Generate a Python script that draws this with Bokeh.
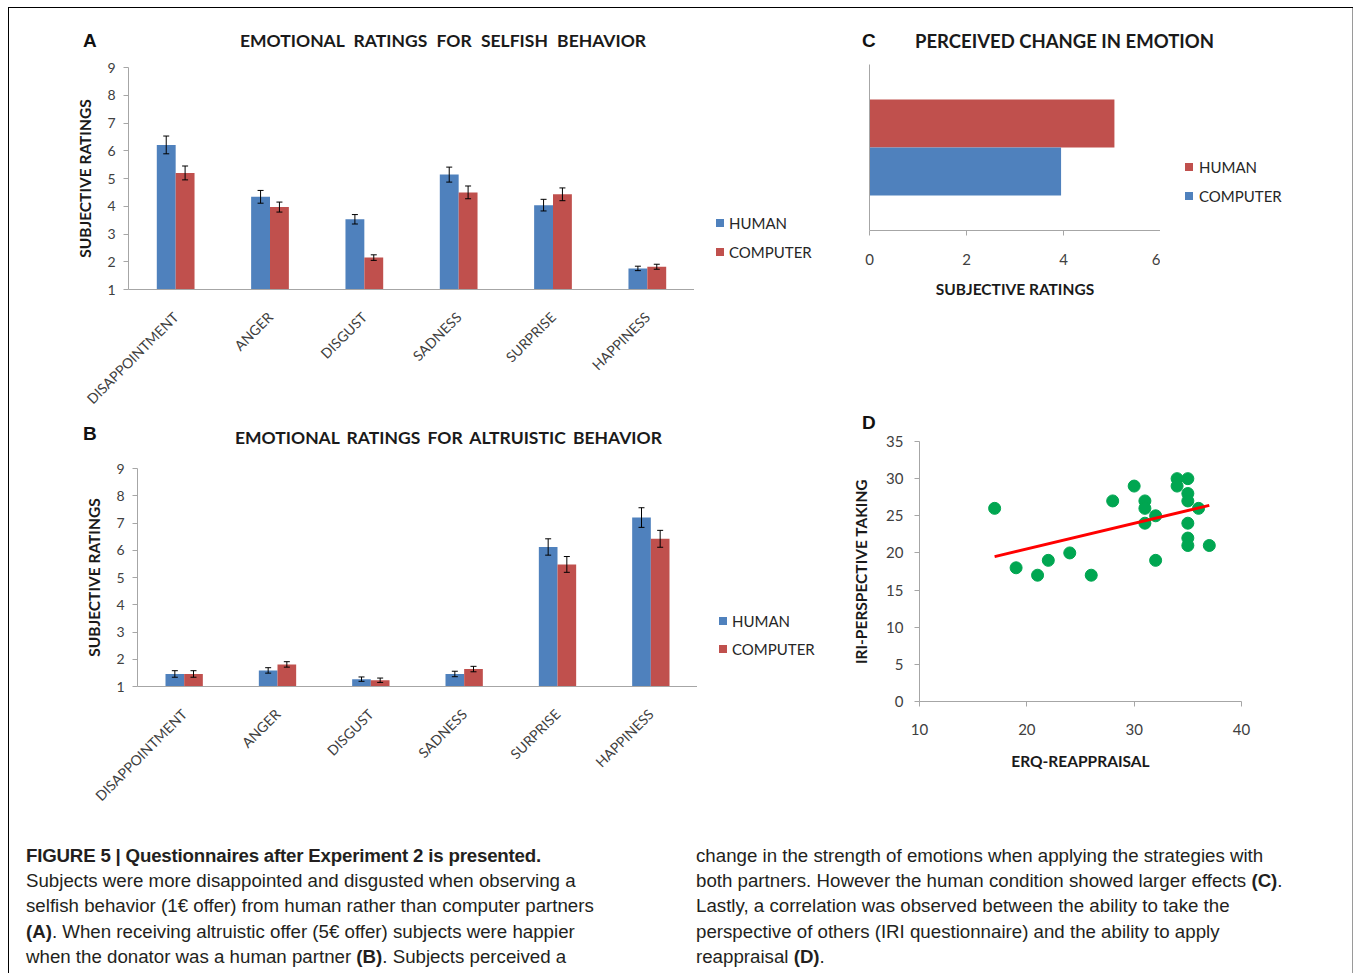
import math
from bokeh.plotting import figure
from bokeh.models import (ColumnDataSource, Range1d, FactorRange, FixedTicker, Div, Spacer)
from bokeh.layouts import row, column
from bokeh.transform import dodge
from bokeh.embed import file_html
from bokeh.resources import INLINE

# ---------------- data ----------------
emotions = ["DISAPPOINTMENT", "ANGER", "DISGUST", "SADNESS", "SURPRISE", "HAPPINESS"]
series_names = ["HUMAN", "COMPUTER"]
selfish_human = [6.21, 4.34, 3.53, 5.14, 4.04, 1.76]
selfish_human_err = [0.32, 0.23, 0.17, 0.27, 0.21, 0.08]
selfish_computer = [5.20, 3.97, 2.15, 4.50, 4.43, 1.82]
selfish_computer_err = [0.25, 0.18, 0.10, 0.23, 0.23, 0.09]
altruistic_human = [1.46, 1.59, 1.27, 1.46, 6.12, 7.20]
altruistic_human_err = [0.12, 0.10, 0.08, 0.10, 0.30, 0.36]
altruistic_computer = [1.46, 1.81, 1.23, 1.64, 5.48, 6.42]
altruistic_computer_err = [0.12, 0.10, 0.08, 0.10, 0.29, 0.31]
rating_ticks = [1, 2, 3, 4, 5, 6, 7, 8, 9]

change_category = ["CHANGE"]
change_human = [5.05]
change_computer = [3.95]
change_ticks = [0, 2, 4, 6]

erq_reappraisal = [17, 19, 21, 22, 24, 26, 28, 30, 31, 31, 31, 32, 32, 34, 34,
                   35, 35, 35, 35, 35, 35, 36, 37]
iri_perspective = [26, 18, 17, 19, 20, 17, 27, 29, 27, 26, 24, 25, 19, 30, 29,
                   30, 28, 27, 24, 22, 21, 26, 21]
trend_x = [17, 37]
trend_y = [19.5, 26.4]
erq_ticks = [10, 20, 30, 40]
iri_ticks = [0, 5, 10, 15, 20, 25, 30, 35]

# ---------------- style ----------------
BLUE = "#4F81BD"
RED = "#C0504D"
GREEN = "#00A651"
AXIS = "#A6A6A6"
TICKTXT = "#404040"
FONT = "Lato"


def new_fig(frame_w, frame_h, borders, **kw):
    bl, br, bt, bb = borders
    return figure(frame_width=frame_w, frame_height=frame_h,
                  output_backend="svg", toolbar_location=None,
                  min_border_left=bl, min_border_right=br, min_border_top=bt,
                  min_border_bottom=bb, frame_align=False, **kw)


def base_style(p, tick_size="14px"):
    p.xgrid.visible = False
    p.ygrid.visible = False
    p.outline_line_color = None
    for ax in p.axis:
        ax.axis_line_color = AXIS
        ax.major_tick_line_color = AXIS
        ax.minor_tick_line_color = None
        ax.major_tick_in = 0
        ax.major_tick_out = 5
        ax.major_label_text_font = FONT
        ax.major_label_text_font_size = tick_size
        ax.major_label_text_color = TICKTXT
        ax.axis_label_text_font = FONT
        ax.axis_label_text_font_style = "bold"
        ax.axis_label_text_font_size = "15.5px"
        ax.axis_label_text_color = "#1a1a1a"


def title_div(width, height, letter, lx, ly, title=None, tx=0, ty=0,
              size="17.5px", wspace="5px"):
    html = (f'<div style="position:relative;width:{width}px;height:{height}px;">'
            f'<span style="position:absolute;left:{lx}px;top:{ly - 11}px;line-height:22px;'
            f'font-family:\'Liberation Sans\',Arial,sans-serif;font-weight:bold;'
            f'font-size:19px;color:#111;white-space:nowrap;">{letter}</span>')
    if title:
        html += (f'<span style="position:absolute;left:{tx}px;top:{ty - 11}px;line-height:22px;'
                 f'font-family:Lato,sans-serif;font-weight:bold;font-size:{size};'
                 f'word-spacing:{wspace};color:#1a1a1a;white-space:nowrap;">{title}</span>')
    html += '</div>'
    return Div(text=html, width=width, height=height, margin=0)


def legend_div(width, height, entries):
    html = f'<div style="position:relative;width:{width}px;height:{height}px;">'
    for label, color, sx, cy, tx in entries:
        html += (f'<span style="position:absolute;left:{sx}px;top:{cy - 4}px;width:8px;'
                 f'height:8px;background:{color};"></span>'
                 f'<span style="position:absolute;left:{tx}px;top:{cy - 10}px;line-height:20px;'
                 f'font-family:Lato,sans-serif;font-size:15px;color:#262626;'
                 f'white-space:nowrap;">{label}</span>')
    html += '</div>'
    return Div(text=html, width=width, height=height, margin=0)


def bar_panel(human, human_err, comp, comp_err, frame_w, frame_h, borders):
    src = ColumnDataSource(dict(
        cat=emotions, h=human, c=comp,
        h_lo=[v - e for v, e in zip(human, human_err)],
        h_hi=[v + e for v, e in zip(human, human_err)],
        c_lo=[v - e for v, e in zip(comp, comp_err)],
        c_hi=[v + e for v, e in zip(comp, comp_err)],
    ))
    p = new_fig(frame_w, frame_h, borders,
                x_range=FactorRange(factors=emotions), y_range=Range1d(1, 9))
    xh = dodge("cat", -0.1, range=p.x_range)
    xc = dodge("cat", 0.1, range=p.x_range)
    p.vbar(x=xh, top="h", bottom=1, width=0.2, source=src, fill_color=BLUE, line_color=None)
    p.vbar(x=xc, top="c", bottom=1, width=0.2, source=src, fill_color=RED, line_color=None)
    for xx, lo, hi in ((xh, "h_lo", "h_hi"), (xc, "c_lo", "c_hi")):
        p.segment(x0=xx, x1=xx, y0=lo, y1=hi, source=src, line_color="black", line_width=1)
        p.scatter(x=xx, y=lo, source=src, marker="dash", size=6, line_color="black", line_width=1)
        p.scatter(x=xx, y=hi, source=src, marker="dash", size=6, line_color="black", line_width=1)
    base_style(p)
    p.yaxis.ticker = FixedTicker(ticks=rating_ticks)
    p.yaxis.axis_label = "SUBJECTIVE RATINGS"
    p.yaxis.major_label_standoff = 8
    p.yaxis.axis_label_standoff = 10
    p.xaxis.major_tick_line_color = None
    p.xaxis.major_label_orientation = math.pi / 4
    p.xaxis.major_label_standoff = 20
    return p


# ---------------- panel A ----------------
pA = bar_panel(selfish_human, selfish_human_err, selfish_computer, selfish_computer_err,
               566, 222, (119, 0, 9, 126))
tA = title_div(831, 50, "A", 74, 33, "EMOTIONAL RATINGS FOR SELFISH BEHAVIOR", 231, 33)
lA = legend_div(146, 357, [(series_names[0], BLUE, 22, 165, 35),
                           (series_names[1], RED, 22, 194, 35)])
blockA = column(tA, row(pA, lA))

# ---------------- panel B ----------------
pB = bar_panel(altruistic_human, altruistic_human_err, altruistic_computer,
               altruistic_computer_err, 560, 218, (128, 0, 7, 145))
tB = title_div(831, 45, "B", 74, 18, "EMOTIONAL RATINGS FOR ALTRUISTIC BEHAVIOR", 226, 22,
               wspace="3px")
lB = legend_div(143, 370, [(series_names[0], BLUE, 22, 160, 35),
                           (series_names[1], RED, 22, 188, 35)])
blockB = column(tB, row(pB, lB))

# ---------------- panel C ----------------
srcC = ColumnDataSource(dict(cat=change_category, h=change_human, c=change_computer))
pC = new_fig(291, 166, (29, 0, 8, 185),
             y_range=FactorRange(factors=change_category), x_range=Range1d(0, 6))
pC.hbar(y=dodge("cat", 0.1446, range=pC.y_range), left=0, right="h", height=0.289,
        source=srcC, fill_color=RED, line_color=None)
pC.hbar(y=dodge("cat", -0.1446, range=pC.y_range), left=0, right="c", height=0.289,
        source=srcC, fill_color=BLUE, line_color=None)
base_style(pC, "15px")
pC.xaxis.ticker = FixedTicker(ticks=change_ticks)
pC.xaxis.major_label_standoff = 18
pC.xaxis.axis_label = "SUBJECTIVE RATINGS"
pC.xaxis.axis_label_standoff = 12
pC.yaxis.major_tick_line_color = None
pC.yaxis.major_label_text_font_size = "1px"
pC.yaxis.major_label_text_color = None
pC.yaxis.major_label_standoff = 0
tC = title_div(512, 48, "C", 22, 33, "PERCEIVED CHANGE IN EMOTION", 75, 33,
               size="18.5px", wspace="0px")
lC = legend_div(192, 359, [(series_names[0], RED, 25, 111, 39),
                           (series_names[1], BLUE, 25, 140, 39)])
blockC = column(tC, row(pC, lC))

# ---------------- panel D ----------------
pD = new_fig(322, 260, (79, 111, 8, 130),
             x_range=Range1d(10, 40), y_range=Range1d(0, 35))
pD.scatter(erq_reappraisal, iri_perspective, size=12, fill_color=GREEN, line_color=GREEN)
pD.line(trend_x, trend_y, line_color="#FF0000", line_width=3)
base_style(pD, "15px")
pD.xaxis.ticker = FixedTicker(ticks=erq_ticks)
pD.yaxis.ticker = FixedTicker(ticks=iri_ticks)
pD.xaxis.major_label_standoff = 17
pD.yaxis.major_label_standoff = 11
pD.xaxis.axis_label = "ERQ-REAPPRAISAL"
pD.yaxis.axis_label = "IRI-PERSPECTIVE TAKING"
pD.xaxis.axis_label_standoff = 14
pD.yaxis.axis_label_standoff = 13
tD = title_div(512, 17, "D", 22, 7)
blockD = column(tD, pD)

# ---------------- caption ----------------
cap_style = ("font-family:'Liberation Sans',Arial,sans-serif;font-size:18.7px;"
             "line-height:25.2px;color:#231f20;white-space:nowrap;")
left_html = (
    f"<div style=\"{cap_style}padding:12px 0 0 17px;\">"
    "<b style=\"letter-spacing:-0.2px\">FIGURE 5 | Questionnaires after Experiment 2 is presented.</b><br>"
    "Subjects were more disappointed and disgusted when observing a<br>"
    "selfish behavior (1&euro; offer) from human rather than computer partners<br>"
    "<b>(A)</b>. When receiving altruistic offer (5&euro; offer) subjects were happier<br>"
    "when the donator was a human partner <b>(B)</b>. Subjects perceived a"
    "</div>")
right_html = (
    f"<div style=\"{cap_style}padding:12px 0 0 7px;\">"
    "change in the strength of emotions when applying the strategies with<br>"
    "both partners. However the human condition showed larger effects <b>(C)</b>.<br>"
    "Lastly, a correlation was observed between the ability to take the<br>"
    "perspective of others (IRI questionnaire) and the ability to apply<br>"
    "reappraisal <b>(D)</b>."
    "</div>")
capL = Div(text=left_html, width=680, height=143, margin=0)
capR = Div(text=right_html, width=663, height=143, margin=0)

content = column(row(blockA, blockC), row(blockB, blockD), row(capL, capR))
top_line = Div(text="", width=1345, height=1, margin=0,
               styles={"background-color": "#000000"})
left_line = Div(text="", width=1, height=965, margin=0,
                styles={"background-color": "#000000"})
right_line = Div(text="", width=1, height=965, margin=0,
                 styles={"background-color": "#9a9a9a"})

layout = column(Spacer(height=7, margin=0),
                row(Spacer(width=8, margin=0),
                    column(top_line, row(left_line, content, right_line))))

with open("out.html", "w", encoding="utf-8") as f:
    f.write(file_html(layout, INLINE))
